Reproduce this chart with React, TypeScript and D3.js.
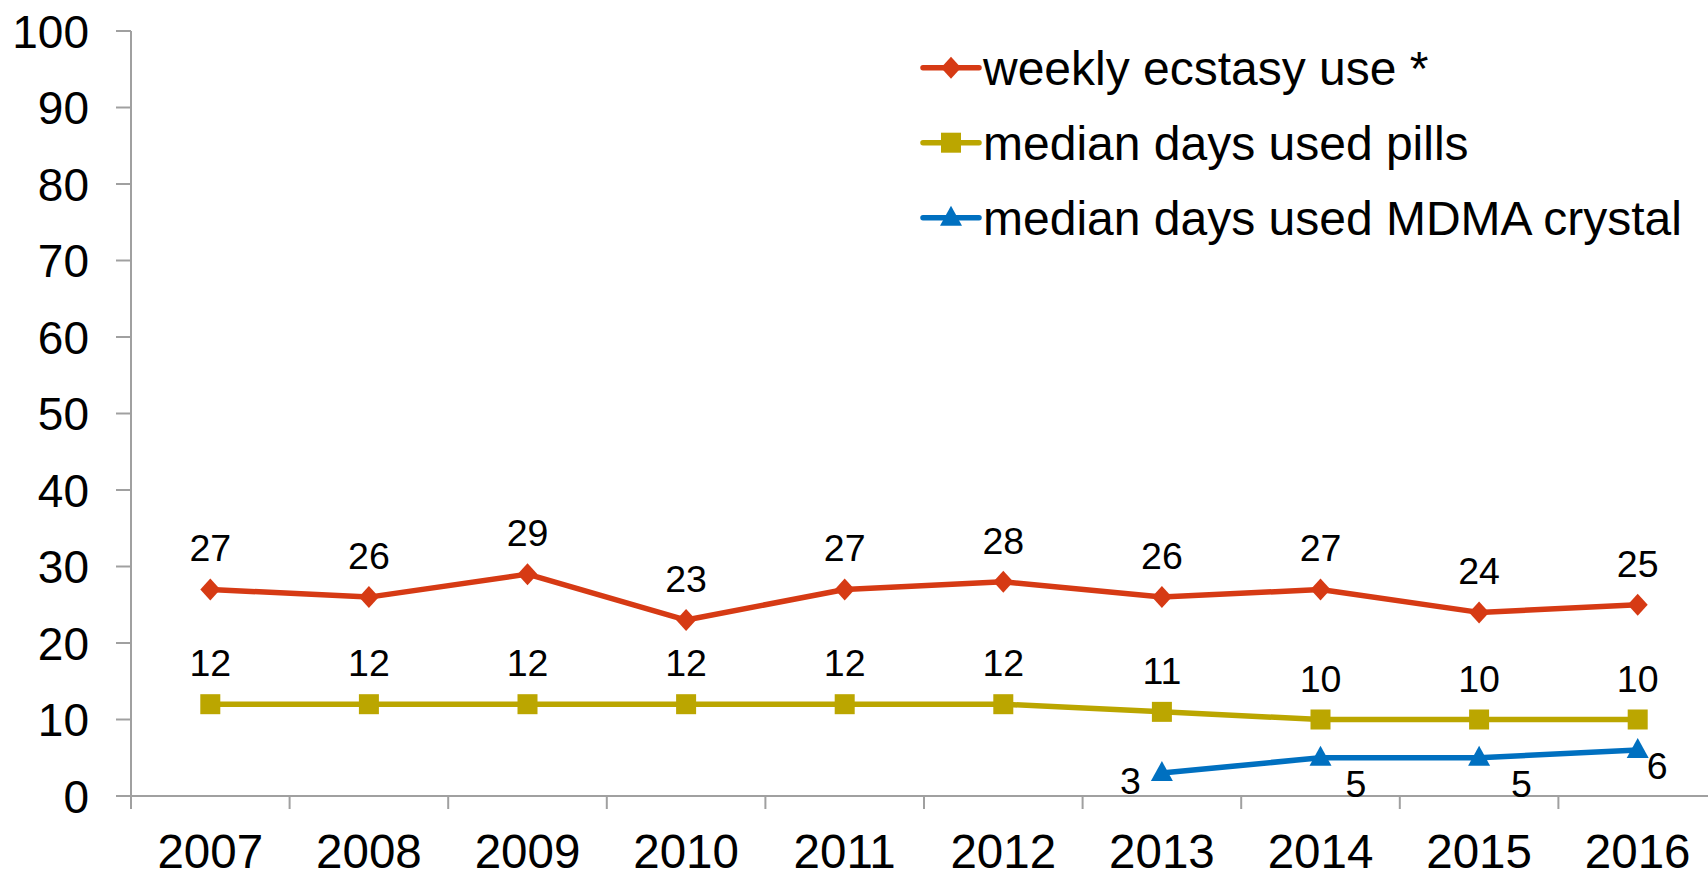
import React from "react";
import * as d3 from "d3";

const years = ["2007", "2008", "2009", "2010", "2011", "2012", "2013", "2014", "2015", "2016"];
const weeklyEcstasy: (number | null)[] = [27, 26, 29, 23, 27, 28, 26, 27, 24, 25];
const medianPills: (number | null)[] = [12, 12, 12, 12, 12, 12, 11, 10, 10, 10];
const medianCrystal: (number | null)[] = [null, null, null, null, null, null, 3, 5, 5, 6];
const yTicks = [0, 10, 20, 30, 40, 50, 60, 70, 80, 90, 100];

const seriesNames = ["weekly ecstasy use *", "median days used pills", "median days used MDMA crystal"];
const seriesColors = ["#D63A14", "#BBA600", "#0070C0"];

// label placement styling for the crystal series: [dx, dy(baseline), anchor]
const crystalLabelPlacement: [number, number, string][] = [
  [0, 0, "middle"], [0, 0, "middle"], [0, 0, "middle"], [0, 0, "middle"], [0, 0, "middle"], [0, 0, "middle"],
  [-21, 21, "end"], [25, 39, "start"], [32, 39, "start"], [9, 29, "start"],
];

const W = 1708;
const H = 872;
const FONT = "'Liberation Sans', Arial, sans-serif";

function Marker({ kind, x, y, color }: { kind: number; x: number; y: number; color: string }) {
  if (kind === 0) {
    return <path d={`M${x},${y - 11}L${x + 10},${y}L${x},${y + 11}L${x - 10},${y}Z`} fill={color} />;
  }
  if (kind === 1) {
    return <rect x={x - 10} y={y - 10} width={20} height={20} fill={color} />;
  }
  return <path d={`M${x},${y - 12}L${x + 11},${y + 8}L${x - 11},${y + 8}Z`} fill={color} />;
}

export default function App() {
  const left = 131;
  const band = 158.6;
  const x = d3.scaleBand<string>().domain(years).range([left, left + band * years.length]).padding(0);
  const y = d3.scaleLinear().domain([0, 100]).range([796, 31]);
  const cx = (yr: string) => (x(yr) as number) + x.bandwidth() / 2;

  const allSeries = [weeklyEcstasy, medianPills, medianCrystal];
  const line = d3
    .line<[string, number | null]>()
    .defined((d) => d[1] !== null)
    .x((d) => cx(d[0]))
    .y((d) => y(d[1] as number));

  const axisColor = "#A0A0A0";
  const xEnd = left + band * years.length;

  return (
    <svg
      width={W}
      height={H}
      style={{ position: "absolute", left: 0, top: 0, background: "#fff", overflow: "hidden" }}
      fontFamily={FONT}
    >
      {/* y axis */}
      <line x1={left} x2={left} y1={y(100)} y2={809} stroke={axisColor} strokeWidth={2} />
      {yTicks.map((t) => (
        <g key={t}>
          <line x1={116} x2={left} y1={y(t)} y2={y(t)} stroke={axisColor} strokeWidth={2} />
          <text x={89} y={y(t)} dy="0.36em" textAnchor="end" fontSize={46} fill="#000">
            {t}
          </text>
        </g>
      ))}
      {/* x axis */}
      <line x1={116} x2={xEnd} y1={y(0)} y2={y(0)} stroke={axisColor} strokeWidth={2} />
      {years.map((yr) => (
        <line key={yr} x1={x(yr)} x2={x(yr)} y1={y(0)} y2={809} stroke={axisColor} strokeWidth={2} />
      ))}
      {years.map((yr) => (
        <text key={yr} x={cx(yr)} y={868} textAnchor="middle" fontSize={47.5} fill="#000">
          {yr}
        </text>
      ))}

      {/* series */}
      {allSeries.map((s, si) => {
        const pts = years.map((yr, i) => [yr, s[i]] as [string, number | null]);
        return (
          <g key={si}>
            <path d={line(pts) || ""} fill="none" stroke={seriesColors[si]} strokeWidth={5.5} strokeLinejoin="round" />
            {pts.map((p, i) =>
              p[1] === null ? null : <Marker key={i} kind={si} x={cx(p[0])} y={y(p[1])} color={seriesColors[si]} />
            )}
            {pts.map((p, i) => {
              if (p[1] === null) return null;
              let tx = cx(p[0]);
              let ty = y(p[1]) - 28;
              let anchor = "middle";
              if (si === 2) {
                const pl = crystalLabelPlacement[i];
                tx += pl[0];
                ty = y(p[1]) + pl[1];
                anchor = pl[2];
              }
              return (
                <text key={"l" + i} x={tx} y={ty} textAnchor={anchor} fontSize={37.5} fill="#000">
                  {p[1]}
                </text>
              );
            })}
          </g>
        );
      })}

      {/* legend */}
      {seriesNames.map((name, i) => {
        const ly = 67.7 + i * 75;
        return (
          <g key={name}>
            <line x1={923} x2={979} y1={ly} y2={ly} stroke={seriesColors[i]} strokeWidth={5.5} strokeLinecap="round" />
            <Marker kind={i} x={951} y={ly} color={seriesColors[i]} />
            <text x={983} y={ly} dy="0.36em" fontSize={48} fill="#000">
              {name}
            </text>
          </g>
        );
      })}
    </svg>
  );
}
